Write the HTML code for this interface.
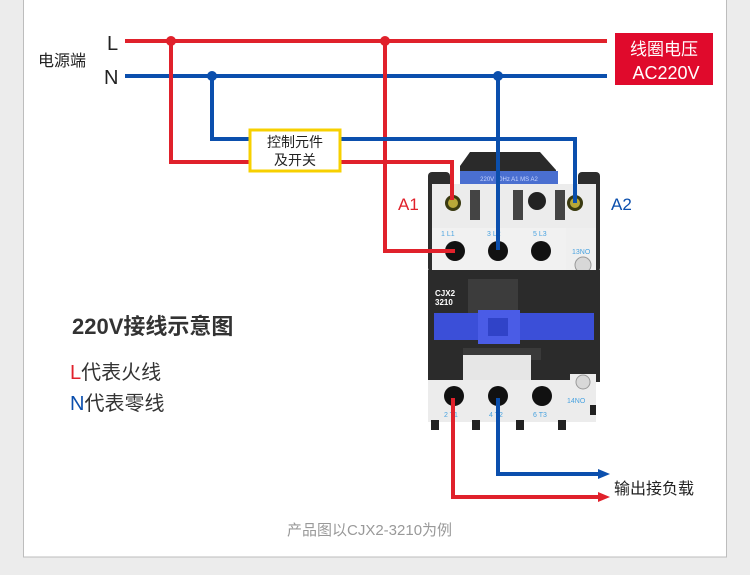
<!DOCTYPE html>
<html><head><meta charset="utf-8"><style>
html,body{margin:0;padding:0;background:#ececec;}
svg{display:block;}
text{font-family:"Liberation Sans","Noto Sans CJK SC",sans-serif;}
</style></head><body>
<svg width="750" height="575" viewBox="0 0 750 575" xmlns="http://www.w3.org/2000/svg">
<rect x="0" y="0" width="750" height="575" fill="#ececec"/>
<rect x="23.5" y="-2" width="703" height="559" fill="#fff" stroke="#bdbdbd" stroke-width="1"/>

<!-- contactor body -->
<g>
  <!-- side dark edges -->
  <rect x="428" y="172" width="22" height="100" rx="4" fill="#2d2d2d"/>
  <rect x="578" y="172" width="22" height="100" rx="4" fill="#2d2d2d"/>
  <!-- top cap -->
  <path d="M470 152 L540 152 L556 170 L556 186 L460 186 L460 166 Z" fill="#2a2a2a"/>
  <rect x="460" y="171" width="98" height="13" fill="#4a6fd0"/>
  <text x="509" y="181" font-size="6" fill="#c9d6ff" text-anchor="middle">220V 50Hz A1 MS A2</text>
  <!-- white top section -->
  <rect x="432" y="184" width="164" height="90" fill="#ececec"/>
  <rect x="432" y="228" width="138" height="46" fill="#f1f1f1"/>
  <rect x="566" y="228" width="30" height="44" fill="#efefef"/>
  <!-- slots -->
  <rect x="470" y="190" width="10" height="30" fill="#444"/>
  <rect x="513" y="190" width="10" height="30" fill="#444"/>
  <circle cx="537" cy="201" r="9" fill="#222"/>
  <rect x="555" y="190" width="10" height="30" fill="#444"/>
  <!-- coil screws -->
  <circle cx="453" cy="203" r="8" fill="#3a3a10"/><circle cx="453" cy="203" r="5" fill="#b8a838"/>
  <circle cx="575" cy="203" r="8" fill="#3a3a10"/><circle cx="575" cy="203" r="5" fill="#b8a838"/>
  <!-- top terminals -->
  <g fill="#111"><circle cx="455" cy="251" r="10"/><circle cx="498" cy="251" r="10"/><circle cx="541" cy="251" r="10"/></g>
  <g font-size="7" fill="#4aa3e0"><text x="441" y="236">1 L1</text><text x="487" y="236">3 L2</text><text x="533" y="236">5 L3</text><text x="572" y="254">13NO</text></g>
  <circle cx="583" cy="265" r="8" fill="#d8d8d8" stroke="#999"/>
  <!-- dark middle -->
  <rect x="428" y="270" width="172" height="112" fill="#2b2b2b"/>
  <rect x="468" y="279" width="50" height="40" fill="#3c3c3c"/>
  <text x="435" y="296" font-size="8" font-weight="bold" fill="#fff">CJX2</text>
  <text x="435" y="305" font-size="8" font-weight="bold" fill="#fff">3210</text>
  <rect x="434" y="313" width="160" height="27" fill="#3b4fd8"/>
  <rect x="478" y="310" width="42" height="34" fill="#4a5ce6"/>
  <rect x="488" y="318" width="20" height="18" fill="#3043c8"/>
  <rect x="463" y="348" width="78" height="12" fill="#3a3a3a"/>
  <rect x="463" y="355" width="68" height="25" fill="#e6e6e6"/>
  <!-- bottom white -->
  <rect x="428" y="380" width="168" height="42" fill="#ececec"/>
  <rect x="570" y="374" width="26" height="10" fill="#ececec"/>
  <circle cx="583" cy="382" r="7" fill="#d8d8d8" stroke="#999"/>
  <g fill="#111"><circle cx="454" cy="396" r="10"/><circle cx="498" cy="396" r="10"/><circle cx="542" cy="396" r="10"/></g>
  <g font-size="7" fill="#4aa3e0"><text x="444" y="417">2 T1</text><text x="489" y="417">4 T2</text><text x="533" y="417">6 T3</text><text x="567" y="403">14NO</text></g>
  <g fill="#222"><rect x="431" y="420" width="8" height="10"/><rect x="472" y="420" width="8" height="10"/><rect x="516" y="420" width="8" height="10"/><rect x="558" y="420" width="8" height="10"/><rect x="590" y="405" width="6" height="10"/></g>
</g>

<!-- wires -->
<g fill="none" stroke-width="4">
  <line x1="125" y1="41" x2="607" y2="41" stroke="#e0212b"/>
  <line x1="125" y1="76" x2="607" y2="76" stroke="#0b4fad"/>
  <polyline points="171,41 171,162 452,162 452,200" stroke="#e0212b"/>
  <polyline points="385,41 385,251 455,251" stroke="#e0212b"/>
  <polyline points="212,76 212,139 575,139 575,203" stroke="#0b4fad"/>
  <polyline points="498,76 498,250" stroke="#0b4fad"/>
  <polyline points="498,398 498,474 600,474" stroke="#0b4fad"/>
  <polyline points="453,398 453,497 600,497" stroke="#e0212b"/>
</g>
<polygon points="598,469 610,474 598,479" fill="#0b4fad"/>
<polygon points="598,492 610,497 598,502" fill="#e0212b"/>
<circle cx="171" cy="41" r="5" fill="#e0212b"/>
<circle cx="385" cy="41" r="5" fill="#e0212b"/>
<circle cx="212" cy="76" r="5" fill="#0b4fad"/>
<circle cx="498" cy="76" r="5" fill="#0b4fad"/>

<!-- yellow box -->
<rect x="250" y="130" width="90" height="41" fill="#fff" stroke="#f7d000" stroke-width="3"/>
<text x="295" y="147" font-size="14" fill="#222" text-anchor="middle">控制元件</text>
<text x="295" y="165" font-size="14" fill="#222" text-anchor="middle">及开关</text>

<!-- red label -->
<rect x="615" y="33" width="98" height="52" fill="#e00a2c"/>
<text x="664" y="55" font-size="17" fill="#fff" text-anchor="middle">线圈电压</text>
<text x="666" y="79" font-size="18" fill="#fff" text-anchor="middle">AC220V</text>

<text x="107" y="50" font-size="20" fill="#222">L</text>
<text x="104" y="84" font-size="20" fill="#222">N</text>
<text x="38" y="66" font-size="16" fill="#222">电源端</text>

<text x="398" y="210" font-size="17" fill="#e0212b">A1</text>
<text x="611" y="210" font-size="17" fill="#0b4fad">A2</text>

<text x="72" y="334" font-size="22" font-weight="bold" fill="#333">220V接线示意图</text>
<text x="70" y="379" font-size="20" fill="#333"><tspan fill="#e0212b">L</tspan>代表火线</text>
<text x="70" y="410" font-size="20" fill="#333"><tspan fill="#0b4fad">N</tspan>代表零线</text>

<text x="614" y="494" font-size="16" fill="#222">输出接负载</text>
<text x="287" y="535" font-size="15" fill="#999">产品图以CJX2-3210为例</text>
</svg>
</body></html>
